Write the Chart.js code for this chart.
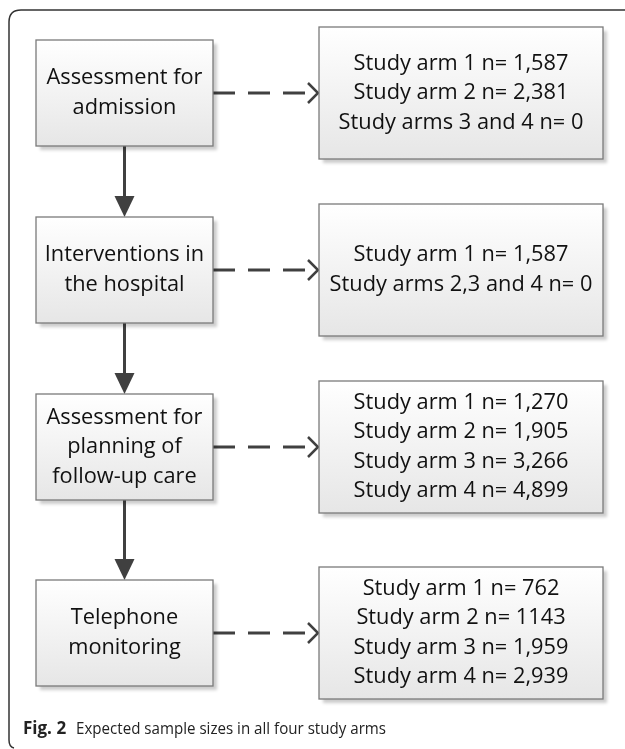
<!DOCTYPE html>
<html>
<head>
<meta charset="utf-8">
<script src="https://cdn.jsdelivr.net/npm/chart.js@4.4.1/dist/chart.umd.min.js"></script>
<style>
  html, body { margin: 0; padding: 0; background: #fff; }
  #wrap { width: 625px; height: 749px; }
</style>
</head>
<body>
<div id="wrap"><canvas id="chart"></canvas></div>
<script>
// steps of the care pathway (left column)
const steps = [
  ["Assessment for", "admission"],
  ["Interventions in", "the hospital"],
  ["Assessment for", "planning of", "follow-up care"],
  ["Telephone", "monitoring"]
];

// expected sample sizes per step (right column)
const admissionArms = ["Study arm 1 n= 1,587", "Study arm 2 n= 2,381", "Study arms 3 and 4 n= 0"];
const hospitalArms = ["Study arm 1 n= 1,587", "Study arms 2,3 and 4 n= 0"];
const followUpArms = ["Study arm 1 n= 1,270", "Study arm 2 n= 1,905", "Study arm 3 n= 3,266", "Study arm 4 n= 4,899"];
const phoneArms = ["Study arm 1 n= 762", "Study arm 2 n= 1143", "Study arm 3 n= 1,959", "Study arm 4 n= 2,939"];
const armBoxes = [admissionArms, hospitalArms, followUpArms, phoneArms];

const captionBold = "Fig. 2";
const captionText = "Expected sample sizes in all four study arms";

// layout (in scale units, 1 unit = 1px)
const rowCenters = [93, 270, 447, 633];
const leftX = [36, 213], leftH = 106;
const rightX = [319, 603], rightH = 132;
const lineGap = 29.5;
const boxFont = "'Open Sans', sans-serif";

function box(ctx, x0, y0, x1, y1) {
  ctx.save();
  ctx.shadowColor = "rgba(0,0,0,0.2)";
  ctx.shadowOffsetX = 4;
  ctx.shadowOffsetY = 4;
  ctx.shadowBlur = 3;
  const g = ctx.createLinearGradient(0, y0, 0, y1);
  g.addColorStop(0, "#ffffff");
  g.addColorStop(1, "#e6e6e6");
  ctx.fillStyle = g;
  ctx.fillRect(x0, y0, x1 - x0, y1 - y0);
  ctx.restore();
  ctx.strokeStyle = "#7a7a7a";
  ctx.lineWidth = 1.3;
  ctx.strokeRect(x0, y0, x1 - x0, y1 - y0);
}

function lines(ctx, arr, cx, cy, size) {
  ctx.fillStyle = "#111";
  ctx.font = size + "px " + boxFont;
  ctx.textAlign = "center";
  ctx.textBaseline = "middle";
  const top = cy - (arr.length - 1) * lineGap / 2;
  arr.forEach((t, i) => ctx.fillText(t, cx, top + i * lineGap));
}

const flowPlugin = {
  id: "flow",
  afterDraw(chart) {
    const ctx = chart.ctx;
    const sx = v => chart.scales.x.getPixelForValue(v);
    const sy = v => chart.scales.y.getPixelForValue(v);

    // text size fitted so "Study arm 1 n= 1,587" is ~215px wide
    ctx.font = "100px " + boxFont;
    const size = 100 * 215 / ctx.measureText(admissionArms[0]).width;

    // outer frame (left + top only)
    ctx.strokeStyle = "#333";
    ctx.lineWidth = 1.5;
    ctx.beginPath();
    ctx.moveTo(sx(625), sy(10));
    ctx.lineTo(sx(21), sy(10));
    ctx.quadraticCurveTo(sx(9), sy(10), sx(9), sy(22));
    ctx.lineTo(sx(9), sy(740));
    ctx.quadraticCurveTo(sx(9), sy(747), sx(14), sy(748));
    ctx.stroke();

    const midX = (leftX[0] + leftX[1]) / 2;

    // solid arrows between steps
    for (let i = 0; i < steps.length - 1; i++) {
      const y0 = rowCenters[i] + leftH / 2;
      const y1 = rowCenters[i + 1] - leftH / 2;
      ctx.strokeStyle = "#404040";
      ctx.lineWidth = 3;
      ctx.beginPath();
      ctx.moveTo(sx(midX), sy(y0));
      ctx.lineTo(sx(midX), sy(y1 - 16));
      ctx.stroke();
      ctx.fillStyle = "#404040";
      ctx.beginPath();
      ctx.moveTo(sx(midX), sy(y1));
      ctx.lineTo(sx(midX - 10), sy(y1 - 21));
      ctx.lineTo(sx(midX + 10), sy(y1 - 21));
      ctx.closePath();
      ctx.fill();
    }

    // dashed arrows to sample size boxes
    rowCenters.forEach(cy => {
      ctx.strokeStyle = "#404040";
      ctx.lineWidth = 3;
      ctx.setLineDash([22, 13]);
      ctx.beginPath();
      ctx.moveTo(sx(leftX[1]), sy(cy));
      ctx.lineTo(sx(rightX[0] - 2), sy(cy));
      ctx.stroke();
      ctx.setLineDash([]);
      ctx.lineWidth = 2.5;
      ctx.beginPath();
      ctx.moveTo(sx(rightX[0] - 11), sy(cy - 10));
      ctx.lineTo(sx(rightX[0] - 1), sy(cy));
      ctx.lineTo(sx(rightX[0] - 11), sy(cy + 10));
      ctx.stroke();
    });

    // boxes and text
    steps.forEach((s, i) => {
      const cy = rowCenters[i];
      box(ctx, sx(leftX[0]), sy(cy - leftH / 2), sx(leftX[1]), sy(cy + leftH / 2));
      lines(ctx, s, sx(midX), sy(cy), size);
      box(ctx, sx(rightX[0]), sy(cy - rightH / 2), sx(rightX[1]), sy(cy + rightH / 2));
      lines(ctx, armBoxes[i], sx((rightX[0] + rightX[1]) / 2), sy(cy), size);
    });

    // caption
    ctx.textAlign = "left";
    ctx.textBaseline = "alphabetic";
    ctx.fillStyle = "#222";
    ctx.font = "bold 17px " + boxFont;
    ctx.fillText(captionBold, sx(23), sy(734));
    ctx.font = "17px " + boxFont;
    ctx.fillText(captionText, sx(76), sy(734), 310);
  }
};

const ctx = document.getElementById("chart").getContext("2d");
const chart = new Chart(ctx, {
  type: "scatter",
  data: { datasets: [{ data: [] }] },
  options: {
    responsive: true,
    maintainAspectRatio: false,
    animation: false,
    layout: { padding: 0 },
    plugins: { legend: { display: false }, tooltip: { enabled: false } },
    scales: {
      x: { type: "linear", min: 0, max: 625, display: false },
      y: { type: "linear", min: 0, max: 749, reverse: true, display: false }
    }
  },
  plugins: [flowPlugin]
});
</script>
</body>
</html>
